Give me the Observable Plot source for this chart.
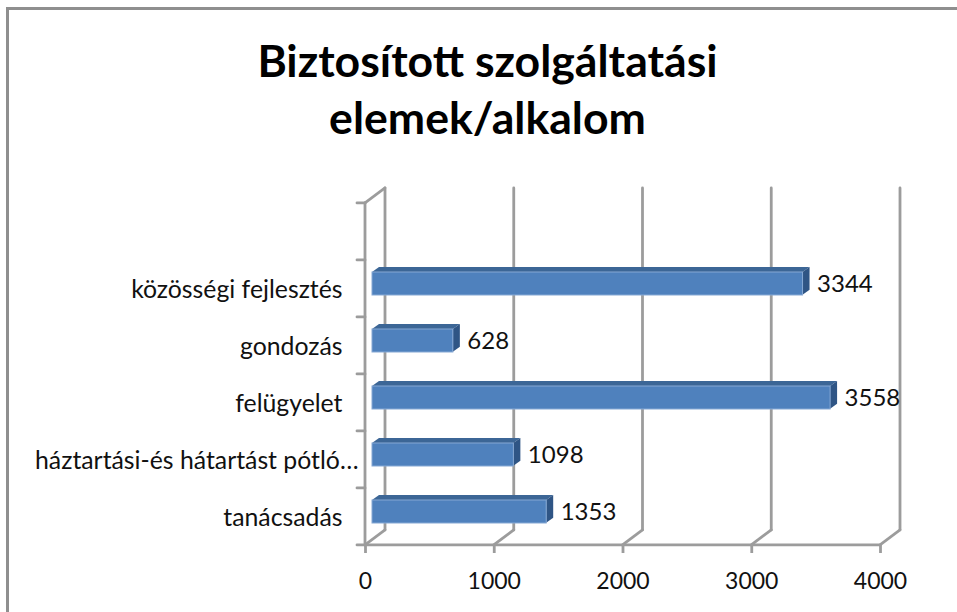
<!DOCTYPE html>
<html lang="hu">
<head>
<meta charset="utf-8">
<title>Biztosított szolgáltatási elemek/alkalom</title>
<script src="https://cdn.jsdelivr.net/npm/d3@7"></script>
<script src="https://cdn.jsdelivr.net/npm/@observablehq/plot@0.6"></script>
<style>
html,body{margin:0;padding:0;background:#fff;overflow:hidden;}
#page{position:relative;width:957px;height:612px;}
#edge{position:absolute;left:6px;top:7px;width:957px;height:620px;border-left:3px solid #8f8f8f;border-top:3px solid #8f8f8f;box-sizing:border-box;}
#title{height:160px;box-sizing:border-box;padding-top:31px;width:975px;text-align:center;font:bold 44.6px/57px Lato,sans-serif;color:#000;}
#chart{display:block;}
svg{display:block;}
</style>
</head>
<body>
<div id="page">
<div id="edge"></div>
<div id="title">Biztosított szolgáltatási<br>elemek/alkalom</div>
<div id="chart"></div>
</div>
<script>
const categories = ["közösségi fejlesztés","gondozás","felügyelet","háztartási-és hátartást pótló…","tanácsadás"];
const values = [3344,628,3558,1098,1353];
const emptySlot = " ";
const xTicks = [0,1000,2000,3000,4000];
const longLabels = ["háztartási-és hátartást pótló…"];
const shortLabels = categories.filter(c => !longLabels.includes(c));
const rows = categories.map((category,i) => ({category, value: values[i]}));

const slots = [emptySlot, ...categories];
const wallDx = 20, wallDy = -15, barDx = 7, barDy = -5, bandShare = 0.4;
const gridColor = "#9c9c9c", gridWidth = 2.8;
const ns = "http://www.w3.org/2000/svg";

function el(tag, attrs){
  const e = document.createElementNS(ns, tag);
  for (const k in attrs) e.setAttribute(k, attrs[k]);
  return e;
}

function chartFrame(index, scales, vals, dims){
  const g = el("g", {});
  const x = scales.x, y = scales.y;
  const step = y(slots[1]) - y(slots[0]);
  const gap = step * (1 - bandShare) / 2;
  const top = y(slots[0]) - gap;
  const floor = top + step * slots.length;
  const line = (x1,y1,x2,y2) => g.appendChild(el("line",{x1,y1,x2,y2,stroke:gridColor,"stroke-width":gridWidth,"stroke-linecap":"round"}));
  for (const t of xTicks){
    line(x(t)+wallDx, floor+wallDy, x(t)+wallDx, top+wallDy);
    line(x(t), floor, x(t)+wallDx, floor+wallDy);
  }
  line(x(0), top, x(0)+wallDx, top+wallDy);
  line(x(0), top, x(0), floor);
  line(x(0), floor, x(4000), floor);
  for (let i = 0; i <= slots.length; i++) line(x(0)-8, top+i*step, x(0), top+i*step);
  return g;
}

function barDepth(index, scales){
  const g = el("g", {});
  const x = scales.x, y = scales.y;
  const step = y(slots[1]) - y(slots[0]);
  const bw = step * bandShare;
  for (const r of rows){
    const x0 = x(0)+barDx, x1 = x(r.value)+barDx, t = y(r.category)+barDy, b = t+bw;
    g.appendChild(el("polygon",{points:`${x0},${t} ${x0+barDx},${t+barDy} ${x1+barDx},${t+barDy} ${x1},${t}`,fill:"#3c6696"}));
    g.appendChild(el("polygon",{points:`${x1},${t} ${x1+barDx},${t+barDy} ${x1+barDx},${b+barDy} ${x1},${b}`,fill:"#2f5585"}));
  }
  return g;
}

const plot = Plot.plot({
  width: 957,
  height: 452,
  marginTop: 42,
  marginBottom: 67,
  marginLeft: 365,
  marginRight: 77,
  style: {fontFamily: "Lato, sans-serif", fontSize: "23px", color: "#111", background: "transparent", overflow: "visible"},
  x: {domain: [0,4000]},
  y: {domain: slots, paddingInner: 0.6, paddingOuter: 0.3, align: 0.5},
  marks: [
    chartFrame,
    Plot.axisX({ticks: xTicks, tickSize: 8, tickPadding: 19, stroke: gridColor, strokeWidth: gridWidth, fill: "#111", fontSize: 23, label: null, tickFormat: d => String(d)}),
    Plot.axisY(shortLabels, {ticks: shortLabels, tickSize: 0, tickPadding: 23, fill: "#111", fontSize: 24.8, dy: 1, label: null}),
    Plot.axisY(longLabels, {ticks: longLabels, tickSize: 0, tickPadding: 7, fill: "#111", fontSize: 24.8, dy: 1, label: null}),
    barDepth,
    Plot.barX(rows, {x: "value", y: "category", fill: "#4f81bd", stroke: "#86a8d4", strokeWidth: 1, dx: barDx, dy: barDy}),
    Plot.text(rows, {x: "value", y: "category", text: d => String(d.value), textAnchor: "start", dx: 21, dy: barDy, fontSize: 24, fill: "#111"})
  ]
});
document.getElementById("chart").appendChild(plot);
</script>
</body>
</html>
